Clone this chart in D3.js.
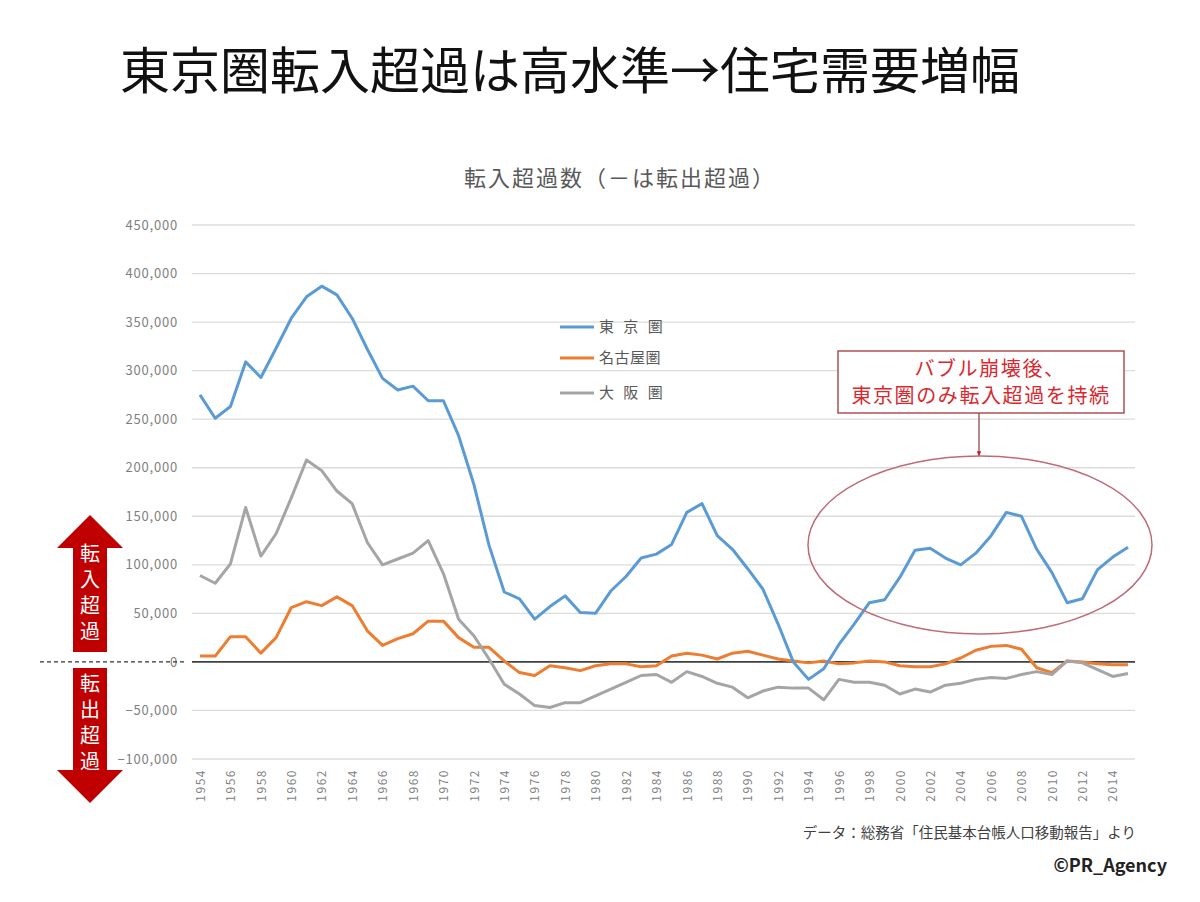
<!DOCTYPE html>
<html>
<head>
<meta charset="utf-8">
<script src="https://cdn.jsdelivr.net/npm/d3@7"></script>
<style>
  body { margin: 0; background: #fff; }
  text { font-family: "Noto Sans CJK JP", "Noto Sans", sans-serif; }
</style>
</head>
<body>
<div id="chart-container"></div>
<script>
const years = d3.range(1954, 2016);

const tokyo = [275000, 251000, 263000, 309000, 293000, 323000, 354000, 376000, 387000, 378000,
  354000, 322000, 292000, 280000, 284000, 269000, 269000, 233000, 183000, 120000,
  72000, 65000, 44000, 57000, 68000, 51000, 50000, 73000, 88000, 107000,
  111000, 121000, 154000, 163000, 130000, 116000, 96000, 75000, 39000, 0,
  -18000, -7000, 18000, 39000, 61000, 64000, 87000, 115000, 117000, 107000,
  100000, 112000, 130000, 154000, 150000, 116000, 92000, 61000, 65000, 95000,
  108000, 118000];

const nagoya = [6000, 6000, 26000, 26000, 9000, 25000, 56000, 62000, 58000, 67000,
  58000, 32000, 17000, 24000, 29000, 42000, 42000, 25000, 15000, 15000,
  1000, -11000, -14000, -4000, -6000, -9000, -4000, -2000, -2000, -5000,
  -4000, 6000, 9000, 7000, 3000, 9000, 11000, 7000, 3000, 1000,
  -1000, 1000, -2000, -1000, 1000, 0, -4000, -5000, -5000, -2000,
  4000, 12000, 16000, 17000, 13000, -6000, -11000, 1000, 0, -2000,
  -3000, -3000];

const osaka = [89000, 81000, 101000, 159000, 109000, 132000, 169000, 208000, 197000, 176000,
  163000, 123000, 100000, 106000, 112000, 125000, 91000, 44000, 27000, 3000,
  -23000, -33000, -45000, -47000, -42000, -42000, -35000, -28000, -21000, -14000,
  -13000, -21000, -10000, -15000, -22000, -26000, -37000, -30000, -26000, -27000,
  -27000, -39000, -18000, -21000, -21000, -24000, -33000, -28000, -31000, -24000,
  -22000, -18000, -16000, -17000, -13000, -10000, -13000, 1000, -1000, -8000,
  -15000, -12000];

const seriesNames = ["東 京 圏", "名古屋圏", "大 阪 圏"];
const seriesColors = ["#5b9bd5", "#ed7d31", "#a5a5a5"];
const yTicks = [-100000, -50000, 0, 50000, 100000, 150000, 200000, 250000, 300000, 350000, 400000, 450000];
const labelYears = years.filter(y => (y - 1954) % 2 === 0);

const width = 1200;
const height = 902;

const svg = d3.select("#chart-container")
  .append("svg")
  .attr("width", width)
  .attr("height", height);

const xScale = d3.scalePoint()
  .domain(years)
  .range([200, 1128]);

const yScale = d3.scaleLinear()
  .domain([-100000, 450000])
  .range([759, 225]);

const gridLeft = 192, gridRight = 1135;

// main title
svg.append("text")
  .attr("x", 120)
  .attr("y", 89)
  .attr("font-size", 50)
  .attr("fill", "#111")
  .text("東京圏転入超過は高水準→住宅需要増幅");

// chart title
svg.append("text")
  .attr("x", 620)
  .attr("y", 186)
  .attr("text-anchor", "middle")
  .attr("font-size", 22)
  .attr("letter-spacing", 2)
  .attr("fill", "#595959")
  .text("転入超過数（－は転出超過）");

// gridlines
svg.append("g")
  .selectAll("line")
  .data(yTicks.filter(d => d !== 0))
  .enter()
  .append("line")
  .attr("x1", gridLeft)
  .attr("x2", gridRight)
  .attr("y1", d => yScale(d))
  .attr("y2", d => yScale(d))
  .attr("stroke", "#dcdcdc")
  .attr("stroke-width", 1.3);

// y axis labels
const yAxis = svg.append("g")
  .attr("transform", `translate(${gridLeft - 14},0)`)
  .call(d3.axisLeft(yScale).tickValues(yTicks).tickSize(0).tickPadding(0).tickFormat(d3.format(",")));
yAxis.select(".domain").remove();
yAxis.selectAll("text")
  .attr("font-family", "'Open Sans', sans-serif")
  .attr("font-size", 13)
  .attr("letter-spacing", 0.8)
  .attr("fill", "#7f7f7f");

// x axis labels
const xAxis = svg.append("g")
  .attr("transform", `translate(0,${yScale(-100000) + 8})`)
  .call(d3.axisBottom(xScale).tickValues(labelYears).tickSize(0).tickPadding(0));
xAxis.select(".domain").remove();
xAxis.selectAll("text")
  .attr("font-family", "'Liberation Sans', sans-serif")
  .attr("font-size", 12)
  .attr("letter-spacing", 1.5)
  .attr("fill", "#7f7f7f")
  .attr("transform", "rotate(-90)")
  .attr("text-anchor", "end")
  .attr("dy", "0.35em")
  .attr("y", 0)
  .attr("x", -2);

// zero line
svg.append("line")
  .attr("x1", gridLeft).attr("x2", gridRight)
  .attr("y1", yScale(0)).attr("y2", yScale(0))
  .attr("stroke", "#404040").attr("stroke-width", 1.6);

svg.append("line")
  .attr("x1", 40).attr("x2", 186)
  .attr("y1", yScale(0)).attr("y2", yScale(0))
  .attr("stroke", "#333").attr("stroke-width", 1.4)
  .attr("stroke-dasharray", "4,3");

// series lines
const line = d3.line()
  .x((d, i) => xScale(years[i]))
  .y(d => yScale(d));

[nagoya, osaka, tokyo].forEach(function (vals) {
  const idx = vals === tokyo ? 0 : vals === nagoya ? 1 : 2;
  svg.append("path")
    .datum(vals)
    .attr("fill", "none")
    .attr("stroke", seriesColors[idx])
    .attr("stroke-width", 3)
    .attr("stroke-linejoin", "round")
    .attr("d", line);
});

// legend
const legend = svg.append("g").attr("transform", "translate(560,327)");
seriesNames.forEach(function (name, i) {
  const g = legend.append("g").attr("transform", `translate(0,${[0, 31, 66][i]})`);
  g.append("line")
    .attr("x1", 0).attr("x2", 34)
    .attr("stroke", seriesColors[i]).attr("stroke-width", 3);
  g.append("text")
    .attr("x", 39).attr("y", 5)
    .attr("font-size", 15)
    .attr("letter-spacing", name.includes(" ") ? 3 : 0.5)
    .attr("fill", "#595959")
    .text(name);
});

// annotation box
svg.append("rect")
  .attr("x", 838).attr("y", 351)
  .attr("width", 286).attr("height", 62)
  .attr("fill", "#fff")
  .attr("stroke", "#b05050").attr("stroke-width", 1.5);
const note = svg.append("text")
  .attr("text-anchor", "middle")
  .attr("font-size", 20)
  .attr("letter-spacing", 1.6)
  .attr("fill", "#d9282f");
note.append("tspan")
  .attr("x", 990).attr("y", 376)
  .text("バブル崩壊後、");
note.append("tspan")
  .attr("x", 981).attr("y", 403)
  .text("東京圏のみ転入超過を持続");

svg.append("defs").append("marker")
  .attr("id", "arrowhead")
  .attr("viewBox", "0 0 10 10")
  .attr("refX", 10).attr("refY", 5)
  .attr("markerWidth", 4).attr("markerHeight", 4)
  .attr("orient", "auto")
  .append("path")
  .attr("d", "M0,0L10,5L0,10Z")
  .attr("fill", "#c0202a");

svg.append("line")
  .attr("x1", 979).attr("x2", 979)
  .attr("y1", 413).attr("y2", 456)
  .attr("stroke", "#8a3a3a").attr("stroke-width", 1.2)
  .attr("marker-end", "url(#arrowhead)");

svg.append("ellipse")
  .attr("cx", 980).attr("cy", 545)
  .attr("rx", 172).attr("ry", 89)
  .attr("fill", "none")
  .attr("stroke", "#c06a78").attr("stroke-width", 1.5);

// left arrows
const arrowColor = "#c00000";
svg.append("path")
  .attr("d", "M90,515 L123,548 L107,548 L107,652 L73,652 L73,548 L57,548 Z")
  .attr("fill", arrowColor);
svg.append("path")
  .attr("d", "M90,803 L123,770 L107,770 L107,668 L73,668 L73,770 L57,770 Z")
  .attr("fill", arrowColor);

// vertical labels inside the arrows
[["転入超過", 543], ["転出超過", 673]].forEach(function (pair) {
  svg.append("text")
    .attr("x", 90).attr("y", pair[1])
    .style("writing-mode", "vertical-rl")
    .attr("font-size", 20)
    .attr("letter-spacing", 6)
    .attr("fill", "#fff")
    .text(pair[0]);
});

// footnotes
svg.append("text")
  .attr("x", 1136).attr("y", 838)
  .attr("text-anchor", "end")
  .attr("font-size", 14.5)
  .attr("fill", "#404040")
  .text("データ：総務省「住民基本台帳人口移動報告」より");
svg.append("text")
  .attr("x", 1167).attr("y", 872)
  .attr("text-anchor", "end")
  .attr("font-family", "'Liberation Sans', sans-serif")
  .attr("font-weight", "bold")
  .attr("font-size", 18)
  .attr("fill", "#222")
  .text("©PR_Agency");
</script>
</body>
</html>
